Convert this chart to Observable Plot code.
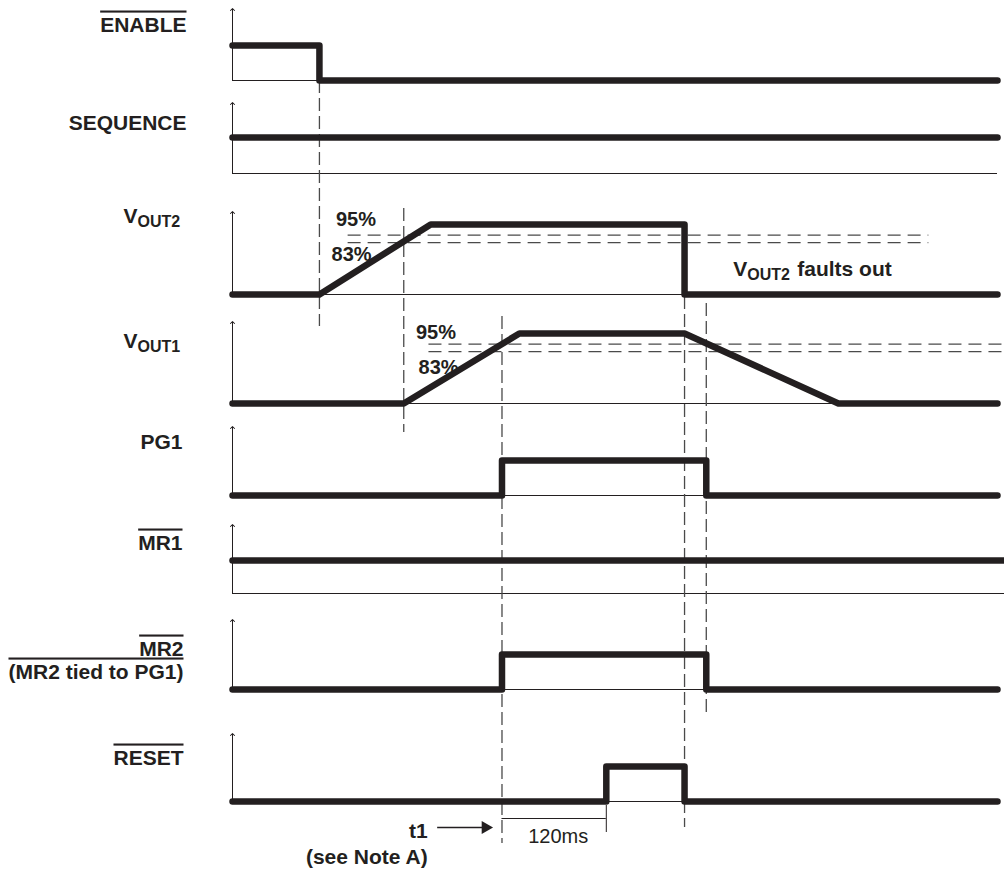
<!DOCTYPE html>
<html>
<head>
<meta charset="utf-8">
<script src="https://cdn.jsdelivr.net/npm/d3@7"></script>
<script src="https://cdn.jsdelivr.net/npm/@observablehq/plot@0.6"></script>
<style>
  html, body { margin: 0; padding: 0; background: #fff; }
  #chart svg { display: block; overflow: visible; }
</style>
</head>
<body>
<div id="chart"></div>
<script>
// ================= DATA =================
// Signals (top to bottom)
const signals = ["ENABLE", "SEQUENCE", "VOUT2", "VOUT1", "PG1", "MR1", "MR2", "RESET"];

// Waveforms: [time (ms), level]; digital level 0/1, analog level in % of nominal
const enableWave   = [[0, 1], [100, 1], [100, 0], [880, 0]];
const sequenceWave = [[0, 1], [880, 1]];
const vout2Wave    = [[0, 0], [100, 0], [228, 112], [520, 112], [520, 0], [880, 0]];
const vout1Wave    = [[0, 0], [197, 0], [330, 112], [520, 112], [697, 0], [880, 0]];
const pg1Wave      = [[0, 0], [310, 0], [310, 1], [545, 1], [545, 0], [880, 0]];
const mr1Wave      = [[0, 1], [890, 1]];
const mr2Wave      = [[0, 0], [310, 0], [310, 1], [545, 1], [545, 0], [880, 0]];
const resetWave    = [[0, 0], [430, 0], [430, 1], [520, 1], [520, 0], [880, 0]];

// Threshold levels (%)
const thresholds = [95, 83];
const thresholdLabels = ["95%", "83%"];

// Event times (ms) marked by vertical dashed lines
const eventTimes = [100, 197, 310, 520, 545];

// Reset delay
const resetDelay = 120;   // ms, from t1 to t1 + 120
const t1 = 310;

// Text
const laneLabels = ["ENABLE", "SEQUENCE", "PG1", "MR1", "MR2", "(MR2 tied to PG1)", "RESET"];
const overlined = new Set(["ENABLE", "MR1", "MR2", "(MR2 tied to PG1)", "RESET"]);

// ================= LAYOUT (positions / styles) =================
const PX_PER_MS = 765 / 880;        // x range / x domain
const waves = {ENABLE: enableWave, SEQUENCE: sequenceWave, VOUT2: vout2Wave, VOUT1: vout1Wave,
               PG1: pg1Wave, MR1: mr1Wave, MR2: mr2Wave, RESET: resetWave};
const lane = {
  ENABLE:   {base: 80,  amp: 35,       arrow: 71},
  SEQUENCE: {base: 173, amp: 36,       arrow: 70},
  VOUT2:    {base: 294, amp: 70 / 112, arrow: 82},
  VOUT1:    {base: 403, amp: 70 / 112, arrow: 81},
  PG1:      {base: 495, amp: 35,       arrow: 68},
  MR1:      {base: 593, amp: 33,       arrow: 68},
  MR2:      {base: 689, amp: 35,       arrow: 69},
  RESET:    {base: 801, amp: 35,       arrow: 67}
};
const baselineEnd = {MR1: 890};
const labelPos = {
  "ENABLE": {dx: -46, y: 31},
  "SEQUENCE": {dx: -46, y: 129},
  "PG1": {dx: -50, y: 448},
  "MR1": {dx: -50, y: 549},
  "MR2": {dx: -49, y: 655},
  "(MR2 tied to PG1)": {dx: -49, y: 678},
  "RESET": {dx: -49, y: 764}
};
const eventSpan = [[80, 326], [208, 432], [316, 843], [224, 827], [303, 713]];
const thresholdSpan = {VOUT2: [133, 801], VOUT1: [226, 890]};
const thLabelPos = {
  VOUT2: [{t: 119, y: 225}, {t: 114, y: 260}],
  VOUT1: [{t: 211, y: 338}, {t: 214, y: 373}]
};

const INK = "#231f20";
const DASH = "#4a4a4a";
const FONT = "'Liberation Sans', Arial, Helvetica, sans-serif";

// Build tables
const waveRows = signals.flatMap(s => waves[s].map(([t, v]) => ({signal: s, t, y: lane[s].base - v * lane[s].amp})));
const axisRows = signals.map(s => ({signal: s, y1: lane[s].base, y2: lane[s].base - lane[s].arrow}));
const baseRows = signals.map(s => ({signal: s, y: lane[s].base, x2: baselineEnd[s] ?? 880}));
const thRows = ["VOUT2", "VOUT1"].flatMap(s => thresholds.map(th => ({
  signal: s, y: lane[s].base - th * lane[s].amp, x1: thresholdSpan[s][0], x2: thresholdSpan[s][1]})));
const thLabelRows = ["VOUT2", "VOUT1"].flatMap(s => thresholdLabels.map((lab, i) => ({text: lab, ...thLabelPos[s][i]})));
const eventRows = eventTimes.map((t, i) => ({t, y1: eventSpan[i][0], y2: eventSpan[i][1]}));
const labelRows = laneLabels.map(text => ({text, t: labelPos[text].dx / PX_PER_MS, y: labelPos[text].y}));
const voutLabels = [{sub: "OUT2", y: 222}, {sub: "OUT1", y: 347}];

const plot = Plot.plot({
  width: 1004,
  height: 869,
  marginTop: 0, marginBottom: 0, marginLeft: 0, marginRight: 0,
  x: {domain: [0, 880], range: [232, 997], axis: null},
  y: {domain: [0, 869], range: [0, 869], axis: null},
  style: {fontFamily: FONT, color: INK, background: "#fff"},
  marks: [
    // thin baselines
    Plot.ruleY(baseRows, {y: "y", x1: 0, x2: "x2", stroke: INK, strokeWidth: 1}),
    // axes with arrow
    Plot.link(axisRows, {x1: 0, x2: 0, y1: "y1", y2: "y2", stroke: INK, strokeWidth: 1, markerEnd: "arrow"}),
    // threshold dashed lines
    Plot.ruleY(thRows, {y: "y", x1: "x1", x2: "x2", stroke: DASH, strokeWidth: 1.3, strokeDasharray: "13,7"}),
    // event dashed lines
    Plot.ruleX(eventRows, {x: "t", y1: "y1", y2: "y2", stroke: DASH, strokeWidth: 1.3, strokeDasharray: "13,5"}),
    // 120 ms dimension
    Plot.ruleY([resetDelay], {y: () => 818, x1: t1, x2: t1 + resetDelay, stroke: INK, strokeWidth: 1}),
    Plot.ruleX([t1 + resetDelay], {x: d => d, y1: 805, y2: 832, stroke: INK, strokeWidth: 1}),
    Plot.text([resetDelay], {x: t1 + resetDelay / 2, y: 842, dx: 4, text: d => `${d}ms`, lineAnchor: "bottom",
      fontSize: 20, fill: INK}),
    // t1 arrow
    Plot.ruleY([t1], {y: () => 827, x1: 236, x2: 289, stroke: INK, strokeWidth: 1.3}),
    Plot.dot([t1], {x: () => 291, y: () => 827, symbol: "triangle2", r: 6.3, rotate: 90, fill: INK, stroke: "none"}),
    Plot.text(["t1"], {x: 236, y: 837, dx: -10, text: d => d, textAnchor: "end", lineAnchor: "bottom",
      fontSize: 21, fontWeight: "bold", fill: INK}),
    Plot.text(["(see Note A)"], {x: 236, y: 863, dx: -10, text: d => d, textAnchor: "end", lineAnchor: "bottom",
      fontSize: 21, fontWeight: "bold", fill: INK}),
    // threshold labels
    Plot.text(thLabelRows, {x: "t", y: "y", text: "text", textAnchor: "start", lineAnchor: "bottom",
      fontSize: 20, fontWeight: "bold", fill: INK}),
    // lane labels
    Plot.text(labelRows, {x: "t", y: "y", text: "text", textAnchor: "end", lineAnchor: "bottom",
      fontSize: 21, fontWeight: "bold", fill: INK}),
    // V_OUTx labels
    Plot.text(voutLabels, {x: 0, y: "y", dx: -109, text: () => "V", textAnchor: "start", lineAnchor: "bottom",
      fontSize: 21, fontWeight: "bold", fill: INK}),
    Plot.text(voutLabels, {x: 0, y: d => d.y + 4, dx: -95, text: "sub", textAnchor: "start", lineAnchor: "bottom",
      fontSize: 16, fontWeight: "bold", fill: INK}),
    // V_OUT2 faults out
    Plot.text(["V"], {x: 576, y: 275, text: d => d, textAnchor: "start", lineAnchor: "bottom",
      fontSize: 21, fontWeight: "bold", fill: INK}),
    Plot.text(["OUT2"], {x: 576, y: 279, dx: 14, text: d => d, textAnchor: "start", lineAnchor: "bottom",
      fontSize: 16, fontWeight: "bold", fill: INK}),
    Plot.text(["faults out"], {x: 576, y: 275, dx: 64, text: d => d, textAnchor: "start", lineAnchor: "bottom",
      fontSize: 21, fontWeight: "bold", fill: INK}),
    // thick waveforms
    Plot.line(waveRows, {x: "t", y: "y", z: "signal", stroke: INK, strokeWidth: 6.5,
      strokeLinecap: "round", strokeLinejoin: "round", curve: "linear"})
  ]
});

d3.select(plot).selectAll("text").each(function () {
  if (overlined.has(this.textContent)) this.style.textDecoration = "overline";
});

document.getElementById("chart").appendChild(plot);
</script>
</body>
</html>
